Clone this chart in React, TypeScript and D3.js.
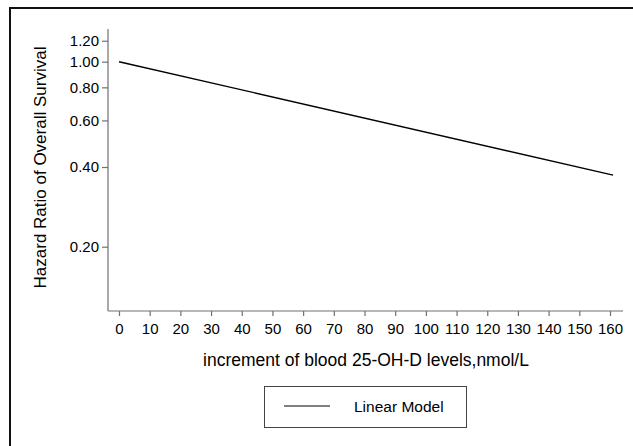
import React, { useEffect, useRef } from "react";
import * as d3 from "d3";

// increment of blood 25-OH-D (nmol/L) and hazard ratio of the linear model
const incrementValues = [0, 161];
const hazardRatios = [1.0, 0.373];
const xTickValues = [0, 10, 20, 30, 40, 50, 60, 70, 80, 90, 100, 110, 120, 130, 140, 150, 160];
const yTickValues = [0.2, 0.4, 0.6, 0.8, 1.0, 1.2];
const yTickLabels = ["0.20", "0.40", "0.60", "0.80", "1.00", "1.20"];

const width = 633,
  height = 446;
const font = "'Liberation Sans', Arial, sans-serif";
const axisColor = "#707070";

export default function App() {
  const svgRef = useRef<SVGSVGElement>(null);

  useEffect(() => {
    const svg = d3.select(svgRef.current);
    svg.selectAll("*").remove();

    // outer frame, cut off at the right and bottom like the picture
    svg
      .append("rect")
      .attr("x", 10)
      .attr("y", 8)
      .attr("width", 700)
      .attr("height", 600)
      .attr("fill", "none")
      .attr("stroke", "#111")
      .attr("stroke-width", 2);

    const x = d3.scaleLinear().domain([0, 160]).range([119, 610]);
    const y = d3.scaleLog().domain([0.2, 1.0]).range([246.7, 61.7]);

    const axisLeft = 108,
      axisRight = 623,
      axisTop = 29,
      axisBottom = 311;

    // y axis
    const yAxis = svg
      .append("g")
      .attr("transform", `translate(${axisLeft},0)`)
      .call(
        d3
          .axisLeft(y)
          .tickValues(yTickValues)
          .tickSize(6)
          .tickPadding(3)
          .tickFormat((d, i) => yTickLabels[i])
      );
    yAxis.select(".domain").remove();
    yAxis
      .append("line")
      .attr("x1", 0)
      .attr("x2", 0)
      .attr("y1", axisTop)
      .attr("y2", axisBottom);

    // x axis
    const xAxis = svg
      .append("g")
      .attr("transform", `translate(0,${axisBottom})`)
      .call(d3.axisBottom(x).tickValues(xTickValues).tickSize(5).tickPadding(7));
    xAxis.select(".domain").remove();
    xAxis
      .append("line")
      .attr("x1", axisLeft)
      .attr("x2", axisRight)
      .attr("y1", 0)
      .attr("y2", 0);

    svg.selectAll(".tick line, g > line").attr("stroke", axisColor).attr("stroke-width", 1.2);
    svg
      .selectAll(".tick text")
      .attr("fill", "#000")
      .style("font-family", font)
      .style("font-size", "15px");

    // the model line
    const line = d3
      .line<number>()
      .x((d, i) => x(d))
      .y((d, i) => y(hazardRatios[i]));
    svg
      .append("path")
      .datum(incrementValues)
      .attr("d", line)
      .attr("fill", "none")
      .attr("stroke", "#000")
      .attr("stroke-width", 1.4);

    // axis titles
    svg
      .append("text")
      .attr("transform", `translate(45.5,167.5) rotate(-90)`)
      .attr("text-anchor", "middle")
      .style("font-family", font)
      .style("font-size", "17px")
      .text("Hazard Ratio of Overall Survival");

    svg
      .append("text")
      .attr("x", 366)
      .attr("y", 365.5)
      .attr("text-anchor", "middle")
      .style("font-family", font)
      .style("font-size", "17.5px")
      .text("increment of blood 25-OH-D levels,nmol/L");

    // legend
    const legend = svg.append("g");
    legend
      .append("rect")
      .attr("x", 264.5)
      .attr("y", 386.5)
      .attr("width", 202)
      .attr("height", 41)
      .attr("fill", "none")
      .attr("stroke", "#444")
      .attr("stroke-width", 1);
    legend
      .append("line")
      .attr("x1", 284)
      .attr("x2", 330)
      .attr("y1", 406)
      .attr("y2", 406)
      .attr("stroke", "#000")
      .attr("stroke-width", 1.2);
    legend
      .append("text")
      .attr("x", 354)
      .attr("y", 412)
      .style("font-family", font)
      .style("font-size", "15.5px")
      .text("Linear Model");
  }, []);

  return (
    <svg
      ref={svgRef}
      width={width}
      height={height}
      style={{ position: "absolute", left: 0, top: 0, background: "#fff" }}
    />
  );
}
